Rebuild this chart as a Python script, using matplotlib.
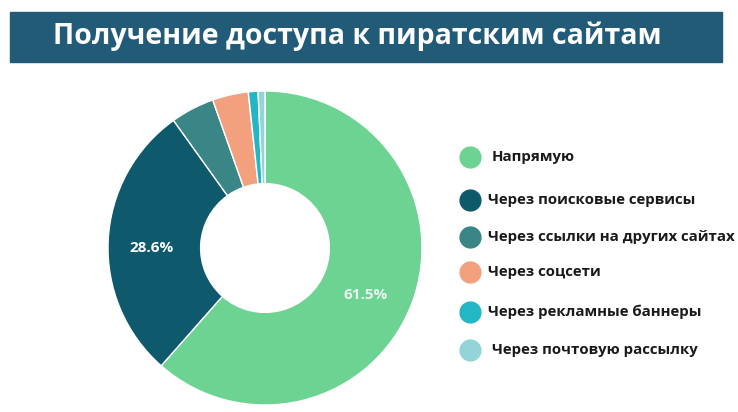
import matplotlib.pyplot as plt
from matplotlib.patches import Rectangle

plt.rcParams['font.family'] = ['Open Sans', 'DejaVu Sans']

categories = ["Напрямую", "Через поисковые сервисы", "Через ссылки на других сайтах",
              "Через соцсети", "Через рекламные баннеры", "Через почтовую рассылку"]
shares = [61.5, 28.6, 4.5, 3.7, 1.0, 0.7]
colors = ["#6dd393", "#0e5a6c", "#3a8585", "#f3a07e", "#23b6c4", "#93d4d8"]
title = "Получение доступа к пиратским сайтам"

W, H = 738, 412
fig = plt.figure(figsize=(W / 100, H / 100), dpi=100)

# title bar
fig.add_artist(Rectangle((10 / W, 1 - 62 / H), 712 / W, 50 / H,
                         transform=fig.transFigure, color="#215b77", zorder=0))
fig.text(357 / W, 1 - 36 / H, title, color="white", fontsize=20.5, fontweight="bold",
         ha="center", va="center")

# donut
cx, cy, r = 265, 248, 157
ax = fig.add_axes([(cx - r) / W, (H - cy - r) / H, 2 * r / W, 2 * r / H])
wedges, _ = ax.pie(shares, colors=colors, startangle=90, counterclock=False,
                   wedgeprops=dict(width=0.59, edgecolor="white", linewidth=1))
ax.set_xlim(-1, 1)
ax.set_ylim(-1, 1)
ax.set_aspect("equal")
ax.text(-0.72, 0.0, "28.6%", color="white", fontsize=11, fontweight="bold",
        ha="center", va="center")
ax.text(0.64, -0.3, "61.5%", color="#e8f7ee", fontsize=11, fontweight="bold",
        ha="center", va="center")

# legend
rows = [157, 200, 237, 272, 312, 350]
for name, col, y in zip(categories, colors, rows):
    fig.add_artist(plt.Line2D([470 / W], [1 - y / H], marker="o", markersize=15,
                              color=col, transform=fig.transFigure))
    xoff = 492 if name in ("Напрямую", "Через почтовую рассылку") else 488
    fig.text(xoff / W, 1 - y / H, name, color="#1a1a1a", fontsize=10.8,
             fontweight="bold", va="center")

fig.savefig("out.png", dpi=100)
